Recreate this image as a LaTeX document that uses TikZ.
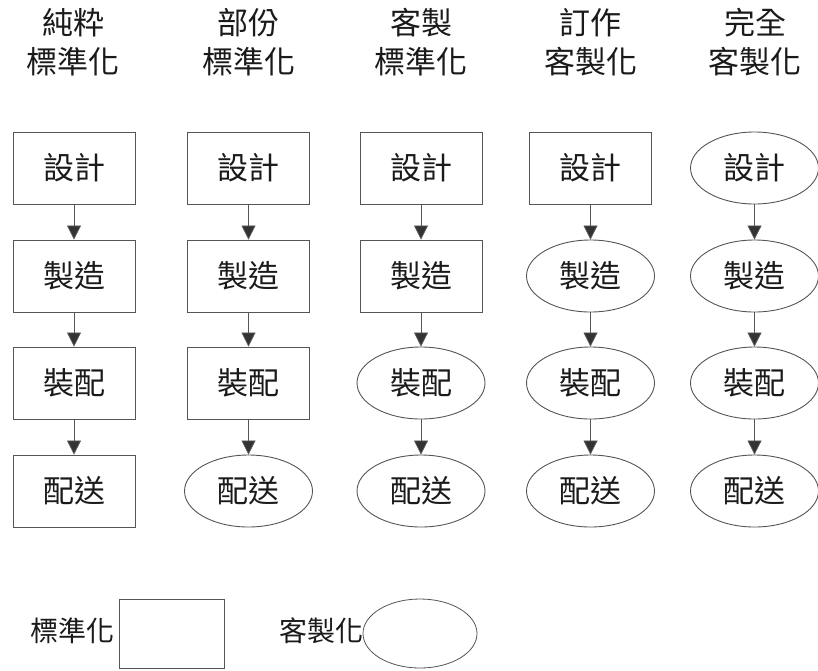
\documentclass[tikz,border=0pt]{standalone}
\usepackage{fontspec}
\newfontfamily\cjk{Noto Sans CJK TC}
\usetikzlibrary{shapes.geometric,arrows.meta}
\definecolor{edgegray}{HTML}{555555}
\definecolor{tipgray}{HTML}{333333}
\definecolor{txt}{HTML}{1A1A1A}
\begin{document}
\begin{tikzpicture}[x=1pt,y=-1pt,
  std/.style={draw=edgegray,line width=0.9pt,rectangle,minimum width=122pt,minimum height=72pt,inner sep=0pt,text=txt,font=\cjk\fontsize{31}{32}\selectfont},
  cus/.style={draw=edgegray,line width=0.9pt,ellipse,minimum width=128pt,minimum height=72pt,inner sep=0pt,text=txt,font=\cjk\fontsize{31}{32}\selectfont},
  head/.style={align=center,inner sep=0pt,text=txt,font=\cjk\fontsize{31}{39}\selectfont},
  lab/.style={inner sep=0pt,text=txt,font=\cjk\fontsize{28}{29}\selectfont},
  flow/.style={draw=edgegray,line width=0.8pt,-{Triangle[width=14pt,length=14pt,fill=tipgray]}}
]
\useasboundingbox (0,0) rectangle (818,670);
% headers
\node[head] (h1) at (73,42) {純粋\\標準化};
\node[head] (h2) at (248.5,42) {部份\\標準化};
\node[head] (h3) at (421,42) {客製\\標準化};
\node[head] (h4) at (590.5,42) {訂作\\客製化};
\node[head] (h5) at (755,42) {完全\\客製化};
% column 1
\node[std] (a1) at (74,168) {設計};
\node[std] (a2) at (74,276) {製造};
\node[std] (a3) at (74,383) {裝配};
\node[std] (a4) at (74,491) {配送};
% column 2
\node[std] (b1) at (248.5,168) {設計};
\node[std] (b2) at (248.5,276) {製造};
\node[std] (b3) at (248.5,383) {裝配};
\node[cus] (b4) at (248.5,491) {配送};
% column 3
\node[std] (c1) at (421,168) {設計};
\node[std] (c2) at (421,276) {製造};
\node[cus] (c3) at (421,383) {裝配};
\node[cus] (c4) at (421,491) {配送};
% column 4
\node[std] (d1) at (590.5,168) {設計};
\node[cus] (d2) at (590.5,276) {製造};
\node[cus] (d3) at (590.5,383) {裝配};
\node[cus] (d4) at (590.5,491) {配送};
% column 5
\node[cus] (e1) at (754.5,168) {設計};
\node[cus] (e2) at (754.5,276) {製造};
\node[cus] (e3) at (754.5,383) {裝配};
\node[cus] (e4) at (754.5,491) {配送};
% connectors
\foreach \c in {a,b,c,d,e}{
  \draw[flow] (\c1) -- (\c2);
  \draw[flow] (\c2) -- (\c3);
  \draw[flow] (\c3) -- (\c4);
}
% legend
\node[lab] (l1) at (72,631) {標準化};
\node[draw=edgegray,line width=0.8pt,rectangle,minimum width=105pt,minimum height=69pt,inner sep=0pt] (l1s) at (171.5,633.5) {};
\node[lab] (l2) at (321,631) {客製化};
\node[draw=edgegray,line width=0.8pt,ellipse,minimum width=114pt,minimum height=69pt,inner sep=0pt] (l2s) at (420,633.5) {};
\end{tikzpicture}
\end{document}
